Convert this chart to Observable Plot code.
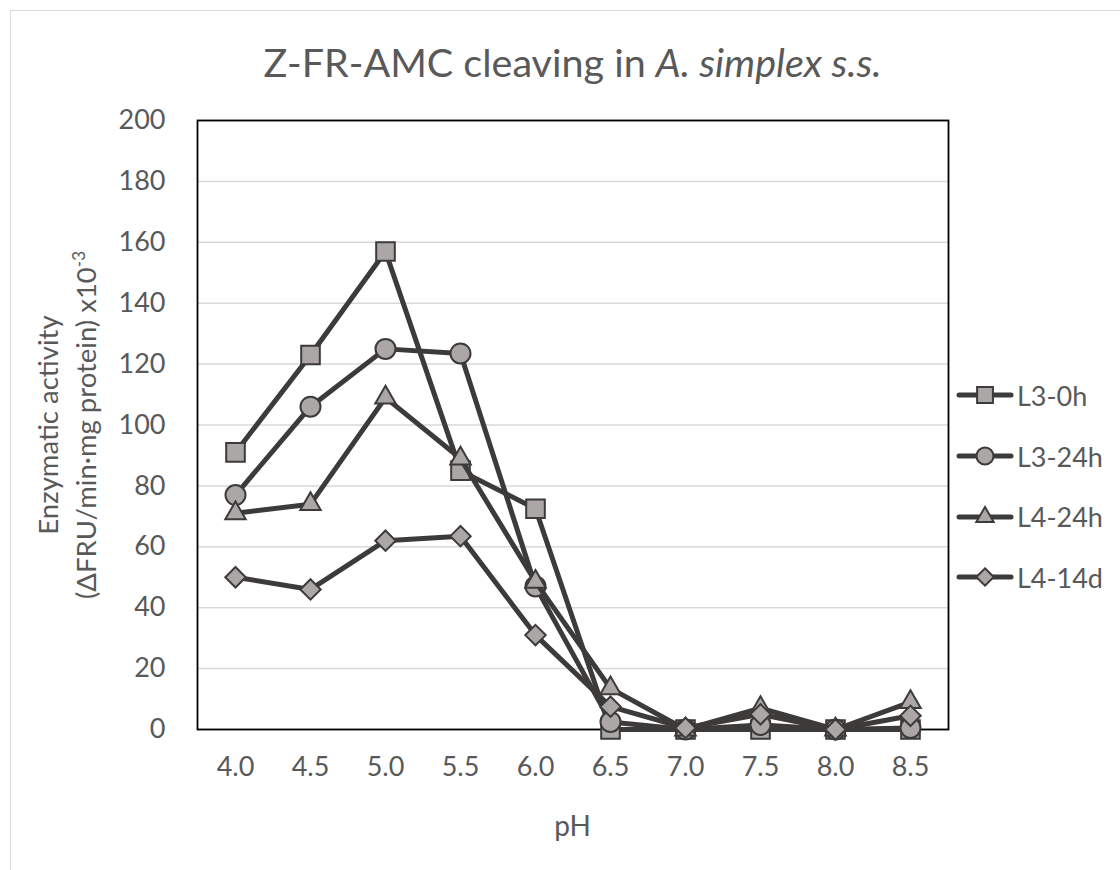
<!DOCTYPE html>
<html><head><meta charset="utf-8">
<script src="https://cdn.jsdelivr.net/npm/d3@7"></script>
<script src="https://cdn.jsdelivr.net/npm/@observablehq/plot@0.6"></script>
<style>
body{margin:0;background:#fff;font-family:Lato,"Open Sans",sans-serif;color:#595959;}
#wrap{position:relative;width:1120px;height:870px;overflow:hidden;background:#fff;}
#border{position:absolute;left:10px;top:10px;width:1120px;height:870px;border:1px solid #d9d9d9;box-sizing:border-box;}
#chart{position:absolute;left:0;top:0;}
#title{position:absolute;left:0;width:1145px;top:39px;text-align:center;font-size:39.5px;line-height:46px;white-space:nowrap;}
#ylab{position:absolute;width:640px;height:76px;left:-253px;top:387px;text-align:center;font-size:27.5px;line-height:38px;transform:rotate(-90deg);transform-origin:50% 50%;white-space:nowrap;}
#ylab sup{font-size:17px;vertical-align:0;position:relative;top:-11px;}
#xlab{position:absolute;left:0;width:1145px;top:808px;text-align:center;font-size:28px;line-height:34px;}
#legend{position:absolute;left:956px;top:365px;}
.item{display:flex;align-items:center;height:60.7px;font-size:27px;}
.item svg{margin-right:3px;}
</style></head><body>
<div id="wrap">
  <div id="border"></div>
  <div id="chart"></div>
  <div id="title">Z-FR-AMC cleaving in <i>A. simplex s.s.</i></div>
  <div id="ylab">Enzymatic activity<br>(ΔFRU/min·mg protein) x10<sup>-3</sup></div>
  <div id="xlab">pH</div>
  <div id="legend"></div>
</div>
<script>
// ---- data ----
const pH = ["4.0","4.5","5.0","5.5","6.0","6.5","7.0","7.5","8.0","8.5"];
const seriesNames = ["L3-0h","L3-24h","L4-24h","L4-14d"];
const seriesSymbols = ["square","circle","triangle","diamond2"];
const L3_0h  = [91, 123, 157, 85, 72.5, 0, 0, 0, 0, 0];
const L3_24h = [77, 106, 125, 123.5, 47, 2.5, 0, 1.5, 0, 0.5];
const L4_24h = [71, 74, 109, 89, 48.5, 13.5, 0, 7, 0, 9];
const L4_14d = [50, 46, 62, 63.5, 31, 7.5, 0.5, 5, 0, 4.5];
const yTicks = [0,20,40,60,80,100,120,140,160,180,200];

const seriesValues = [L3_0h, L3_24h, L4_24h, L4_14d];
const seriesR = [10.5, 10, 7.6, 9.2];
const lineColor = "#3d3b3a";
const markFill = "#aaa7a6";

const rows = [];
seriesNames.forEach((name, si) => seriesValues[si].forEach((v, i) => rows.push({series: name, pH: pH[i], value: v})));

const marks = [
  Plot.gridY(yTicks, {stroke: "#d9d9d9", strokeOpacity: 1, strokeWidth: 1.5}),
  Plot.frame({stroke: "#000", strokeWidth: 1.8}),
  Plot.axisY(yTicks, {tickSize: 0, tickPadding: 32, fontSize: 27, label: null, fill: "#595959"}),
  Plot.axisX({tickSize: 0, tickPadding: 27, fontSize: 27, label: null, fill: "#595959"})
];
seriesNames.forEach((name, si) => {
  const d = rows.filter(r => r.series === name);
  marks.push(Plot.line(d, {x: "pH", y: "value", stroke: lineColor, strokeWidth: 5, strokeLinejoin: "round"}));
  marks.push(Plot.dot(d, {x: "pH", y: "value", symbol: seriesSymbols[si], r: seriesR[si], fill: markFill, stroke: lineColor, strokeWidth: 2}));
});

const chart = Plot.plot({
  width: 1120, height: 870,
  marginLeft: 197, marginRight: 172, marginTop: 120, marginBottom: 141,
  style: {fontFamily: "Lato, 'Open Sans', sans-serif", color: "#595959", background: "transparent"},
  x: {type: "point", domain: pH, padding: 0.5},
  y: {domain: [0, 200]},
  marks
});
document.getElementById("chart").appendChild(chart);

// legend
const leg = d3.select("#legend");
const symMap = {square: d3.symbolSquare, circle: d3.symbolCircle, triangle: d3.symbolTriangle, diamond2: d3.symbolDiamond2};
seriesNames.forEach((name, si) => {
  const it = leg.append("div").attr("class", "item");
  const svg = it.append("svg").attr("width", 58).attr("height", 30);
  svg.append("line").attr("x1", 3).attr("x2", 55).attr("y1", 15).attr("y2", 15)
    .attr("stroke", lineColor).attr("stroke-width", 5).attr("stroke-linecap", "round");
  const r = seriesR[si] * 0.85;
  svg.append("path").attr("transform", "translate(29,15)")
    .attr("d", d3.symbol(symMap[seriesSymbols[si]], Math.PI * r * r)())
    .attr("fill", markFill).attr("stroke", lineColor).attr("stroke-width", 2);
  it.append("span").text(name);
});
</script>
</body></html>
